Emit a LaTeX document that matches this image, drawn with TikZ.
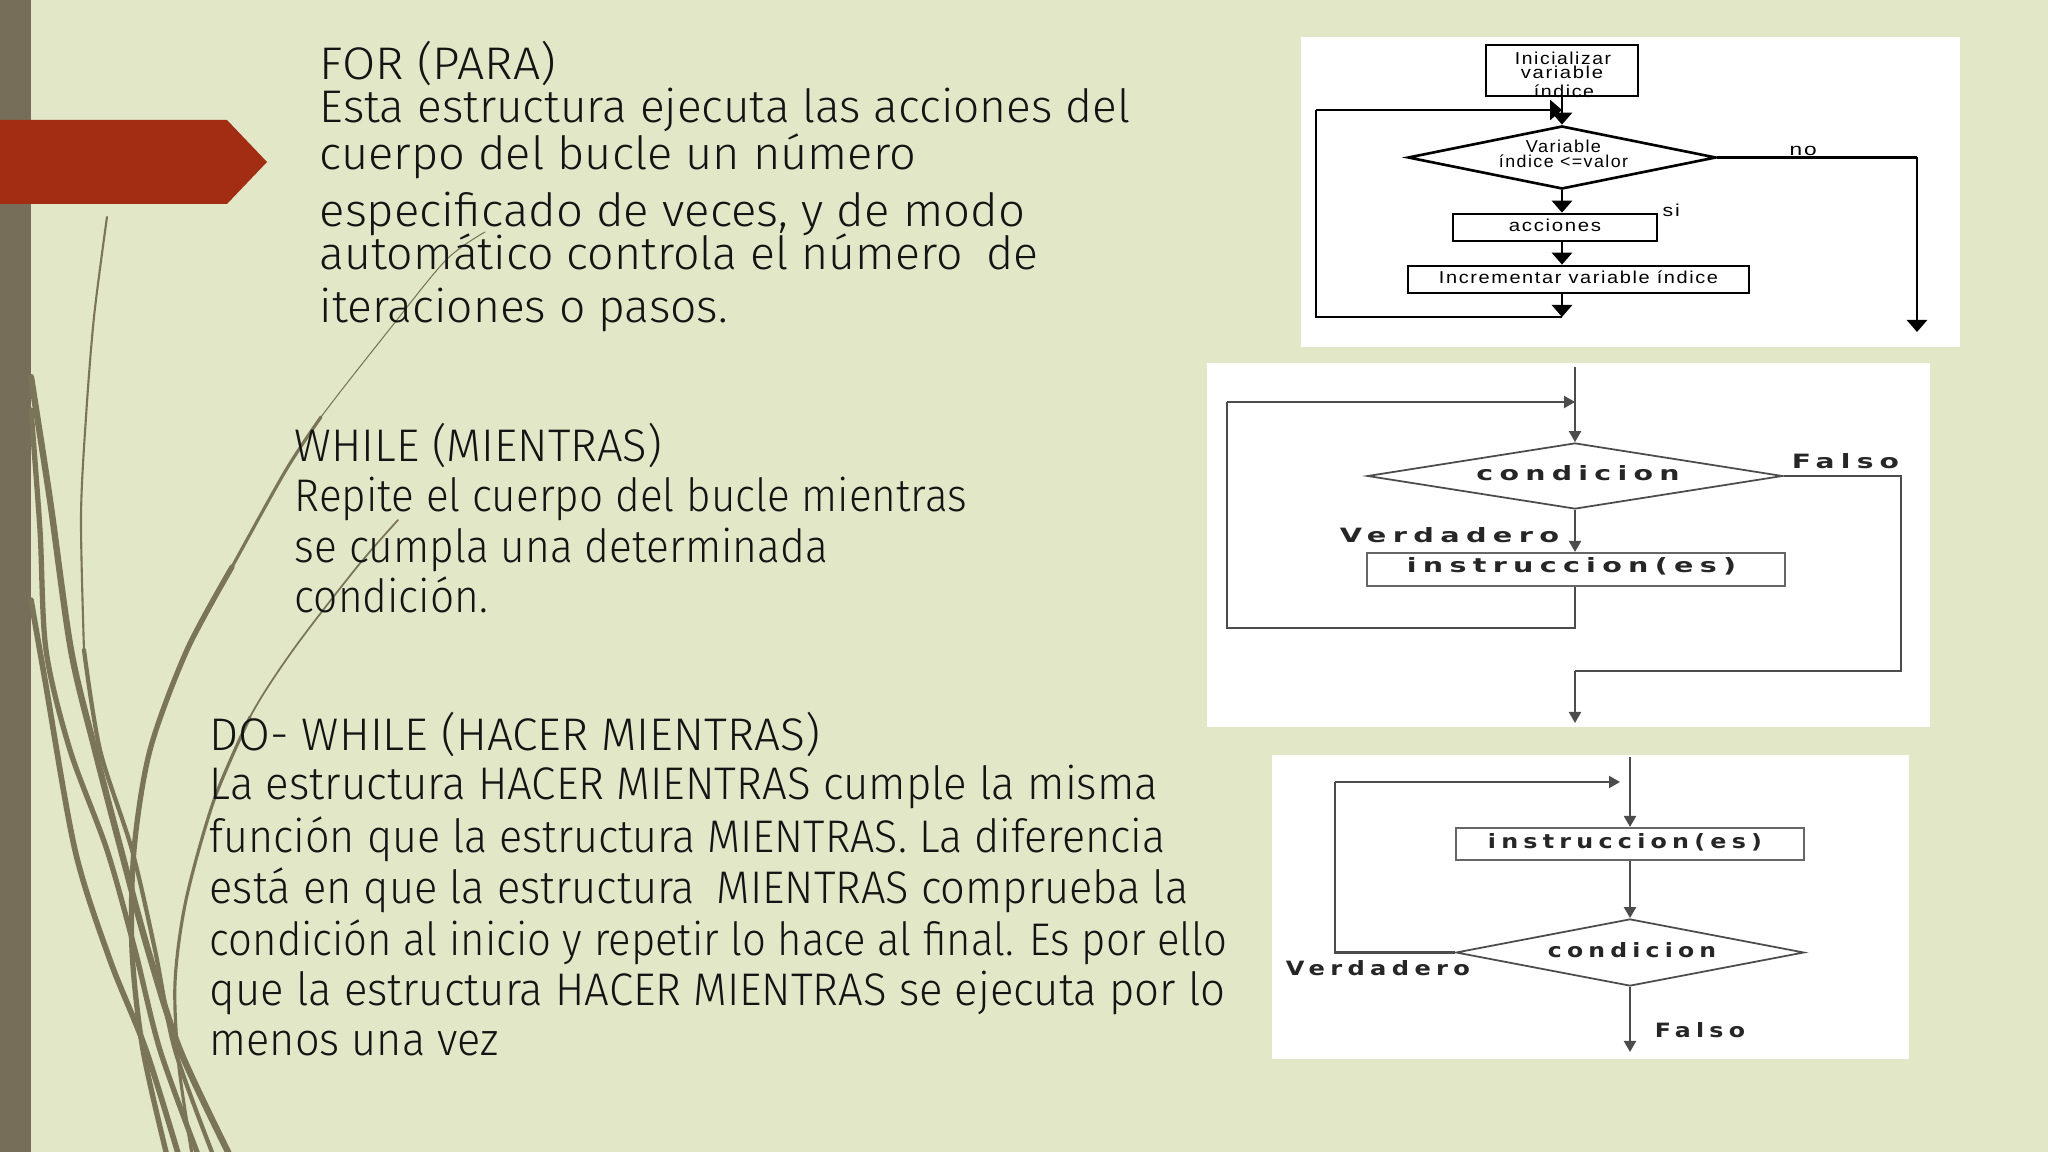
\documentclass[tikz,border=0pt]{standalone}
\usepackage{fontspec}
\usepackage{graphicx}
\usetikzlibrary{arrows.meta,shapes.geometric}
\IfFontExistsTF{Fira Sans Light}{\newfontfamily\bodyfont{Fira Sans Light}}{\newfontfamily\bodyfont{Open Sans}}
\newfontfamily\chartA{Liberation Sans}[LetterSpace=8]
\newfontfamily\chartB{DejaVu Sans}[LetterSpace=22]
\newcommand\fitline[2]{\resizebox{#1}{\height}{#2}}
\definecolor{bgc}{RGB}{225,231,199}
\definecolor{barc}{RGB}{118,110,88}
\definecolor{curvec}{RGB}{122,116,88}
\definecolor{redc}{RGB}{163,45,18}
\definecolor{txtc}{RGB}{20,20,20}
\tikzset{
  body/.style={font=\bodyfont\fontsize{13pt}{15pt}\selectfont, text=txtc, inner sep=0pt, anchor=base west},
  ca/.style={font=\chartA\fontsize{4.9pt}{5pt}\selectfont, inner sep=0pt, anchor=base, text=black},
  cb/.style={font=\chartB\bfseries\fontsize{5.6pt}{6pt}\selectfont, inner sep=0pt, anchor=base, text=black!85},
  boxA/.style={draw=black, line width=0.75pt, inner sep=0pt},
  diaA/.style={diamond, draw=black, line width=0.75pt, inner sep=0pt},
  flowA/.style={draw=black, line width=0.8pt},
  arrA/.style={flowA, -{Triangle[length=0.12cm,width=0.2cm]}},
  boxB/.style={draw=black!60, line width=0.6pt, inner sep=0pt},
  diaB/.style={diamond, draw=black!70, line width=0.5pt, inner sep=0pt},
  flowB/.style={draw=black!70, line width=0.6pt},
  arrB/.style={flowB, -{Triangle[length=0.11cm,width=0.12cm]}},
  deco/.style={draw=curvec, line cap=round, line join=round},
}
\begin{document}
\begin{tikzpicture}[x=0.01cm,y=-0.01cm]
\useasboundingbox (0,0) rectangle (2048,1152);
\fill[bgc] (0,0) rectangle (2048,1152);
\fill[barc] (0,0) rectangle (31,1152);

% decorative curves
\draw[deco, line width=1.6pt] plot[smooth] coordinates {(31,600) (45,680) (75,850) (110,960) (146,1050) (180,1160)};
\draw[deco, line width=1.5pt] plot[smooth] coordinates {(31,410) (40,530) (46,650) (70,750) (107,850) (135,950) (160,1050) (200,1160)};
\draw[deco, line width=1.8pt] plot[smooth] coordinates {(31,377) (50,500) (71,650) (95,750) (121,850) (148,950) (180,1050) (232,1160)};
\draw[deco, line width=0.6pt] plot[smooth] coordinates {(107,217) (94,317) (86,417) (81,517) (84,650)};
\draw[deco, line width=1.2pt] plot[smooth] coordinates {(84,650) (100,750) (132,850) (155,950) (175,1050) (215,1160)};
\draw[deco, line width=0.3pt] plot[smooth] coordinates {(485,232) (446,260) (389,330) (321,417) (286,470)};
\draw[deco, line width=0.9pt] plot[smooth] coordinates {(321,417) (286,470) (232,567) (187,650)};
\draw[deco, line width=1.5pt] plot[smooth] coordinates {(232,567) (187,650) (150,750) (134,850) (132,950) (143,1050) (168,1160)};
\draw[deco, line width=0.5pt] plot[smooth] coordinates {(398,520) (357,567) (293,650) (250,717) (214,800)};
\draw[deco, line width=0.9pt] plot[smooth] coordinates {(250,717) (214,800) (186,900) (175,983) (179,1067) (193,1160)};

% red arrow
\fill[redc] (0,120) -- (227,120) -- (267,162) -- (227,204) -- (0,204) -- cycle;

% body text
\node[body] (f0) at (319,80) {\fitline{2.36cm}{FOR (PARA)}};
\node[body] (f1) at (319,123) {\fitline{8.10cm}{Esta estructura ejecuta las acciones del}};
\node[body] (f2) at (319,170) {\fitline{5.96cm}{cuerpo del bucle un número}};
\node[body] (f3) at (319,227) {\fitline{7.05cm}{especificado de veces, y de modo}};
\node[body] (f4) at (319,270) {\fitline{7.18cm}{automático controla el número\enspace de}};
\node[body] (f5) at (319,323) {\fitline{4.08cm}{iteraciones o pasos.}};

\node[body] (w0) at (294,462) {\fitline{3.67cm}{WHILE (MIENTRAS)}};
\node[body] (w1) at (294,512) {\fitline{6.72cm}{Repite el cuerpo del bucle mientras}};
\node[body] (w2) at (294,563) {\fitline{5.33cm}{se cumpla una determinada}};
\node[body] (w3) at (294,613) {\fitline{1.93cm}{condición.}};

\node[body] (d0) at (209,750) {\fitline{6.10cm}{DO- WHILE (HACER MIENTRAS)}};
\node[body] (dl1) at (209,800) {\fitline{9.48cm}{La estructura HACER MIENTRAS cumple la misma}};
\node[body] (dl2) at (209,852) {\fitline{9.55cm}{función que la estructura MIENTRAS. La diferencia}};
\node[body] (dl3) at (209,903) {\fitline{9.78cm}{está en que la estructura\enspace MIENTRAS comprueba la}};
\node[body] (dl4) at (209,955) {\fitline{10.17cm}{condición al inicio y repetir lo hace al final. Es por ello}};
\node[body] (dl5) at (209,1005) {\fitline{10.15cm}{que la estructura HACER MIENTRAS se ejecuta por lo}};
\node[body] (dl6) at (209,1055) {\fitline{2.89cm}{menos una vez}};

% white panels
\fill[white] (1301,37) rectangle (1960,347);
\fill[white] (1207,363) rectangle (1930,727);
\fill[white] (1272,755) rectangle (1909,1059);

% ---- panel 1: FOR
\node[boxA, minimum width=1.52cm, minimum height=0.51cm] (init) at (1562,70.5) {};
\node[ca] (tA1) at (1563,65) {\fitline{0.96cm}{Inicializar}};
\node[ca] (tA2) at (1562,79) {\fitline{0.82cm}{variable}};
\begin{scope}
\clip (init.south west) rectangle (init.north east);
\node[ca] (tA3) at (1564,98) {\fitline{0.60cm}{índice}};
\end{scope}
\node[diaA, minimum width=3.08cm, minimum height=0.63cm] (d1) at (1562,157.5) {};
\node[ca] (tA4) at (1563.5,153) {\fitline{0.75cm}{Variable}};
\node[ca] (tA5) at (1563.5,168) {\fitline{1.29cm}{índice <=valor}};
\node[boxA, minimum width=2.04cm, minimum height=0.27cm] (acc) at (1555,227.5) {};
\node[ca] (tA6) at (1555,232) {\fitline{0.92cm}{acciones}};
\node[boxA, minimum width=3.41cm, minimum height=0.27cm] (inc) at (1578.5,279.5) {};
\node[ca] (tA7) at (1578.5,284) {\fitline{2.79cm}{Incrementar variable índice}};
\node[ca, anchor=base west] (tno) at (1789,156) {\fitline{0.27cm}{no}};
\node[ca, anchor=base west] (tsi) at (1662,217) {\fitline{0.17cm}{si}};
\coordinate (lb) at (1562,317);
\coordinate (ll) at (1316,317);
\coordinate (lt) at (1316,110);
\coordinate (lr) at (1562,110);
\coordinate (n1) at (1917,157.5);
\coordinate (n2) at (1917,332);
\draw[arrA] (init.south) -- (d1.north);
\draw[arrA] (d1.south) -- (d1.south |- acc.north);
\draw[arrA] (d1.south |- acc.south) -- (d1.south |- inc.north);
\draw[arrA] (d1.south |- inc.south) -- (lb);
\draw[flowA] (lb) -- (ll) -- (lt);
\draw[arrA] (lt) -- (lr);
\draw[flowA] (d1.east) -- (n1);
\draw[arrA] (n1) -- (n2);

% ---- panel 2: WHILE
\node[diaB, minimum width=4.15cm, minimum height=0.66cm] (d2) at (1575,476) {};
\node[boxB, minimum width=4.18cm, minimum height=0.33cm] (b2) at (1576,569.5) {};
\node[cb] (c2) at (1578,481) {\fitline{2.03cm}{condicion}};
\node[cb] (i2) at (1571.5,573) {\fitline{3.29cm}{instruccion(es)}};
\node[cb] (v2) at (1449.5,543) {\fitline{2.19cm}{Verdadero}};
\node[cb] (fa2) at (1845.5,469) {\fitline{1.07cm}{Falso}};
\coordinate (top2) at (1575,367);
\coordinate (tr2) at (1575,402);
\coordinate (tl2) at (1227,402);
\coordinate (bl2) at (1227,628);
\coordinate (br2) at (1575,628);
\coordinate (fr1) at (1901,476);
\coordinate (fr2) at (1901,671);
\coordinate (fl2) at (1575,671);
\coordinate (end2) at (1575,723);
\draw[arrB] (top2) -- (d2.north);
\draw[arrB] (d2.south) -- (d2.south |- b2.north);
\draw[flowB] (d2.south |- b2.south) -- (br2) -- (bl2) -- (tl2);
\draw[arrB] (tl2) -- (tr2);
\draw[flowB] (d2.east) -- (fr1) -- (fr2) -- (fl2);
\draw[arrB] (fl2) -- (end2);

% ---- panel 3: DO-WHILE
\node[boxB, minimum width=3.48cm, minimum height=0.32cm] (b3) at (1630,844) {};
\node[diaB, minimum width=3.48cm, minimum height=0.67cm] (d3) at (1630,952.5) {};
\node[cb] (i3) at (1625,848) {\fitline{2.74cm}{instruccion(es)}};
\node[cb] (c3) at (1632,957) {\fitline{1.68cm}{condicion}};
\node[cb] (v3) at (1378,975) {\fitline{1.84cm}{Verdadero}};
\node[cb] (fa3) at (1700,1037) {\fitline{0.90cm}{Falso}};
\coordinate (top3) at (1630,757);
\coordinate (end3) at (1630,1052);
\coordinate (l3b) at (1335,952.5);
\coordinate (l3t) at (1335,782);
\coordinate (l3r) at (1620,782);
\draw[arrB] (top3) -- (b3.north);
\draw[arrB] (b3.south) -- (d3.north);
\draw[arrB] (d3.south) -- (end3);
\draw[flowB] (d3.west) -- (l3b) -- (l3t);
\draw[arrB] (l3t) -- (l3r);
\end{tikzpicture}
\end{document}
